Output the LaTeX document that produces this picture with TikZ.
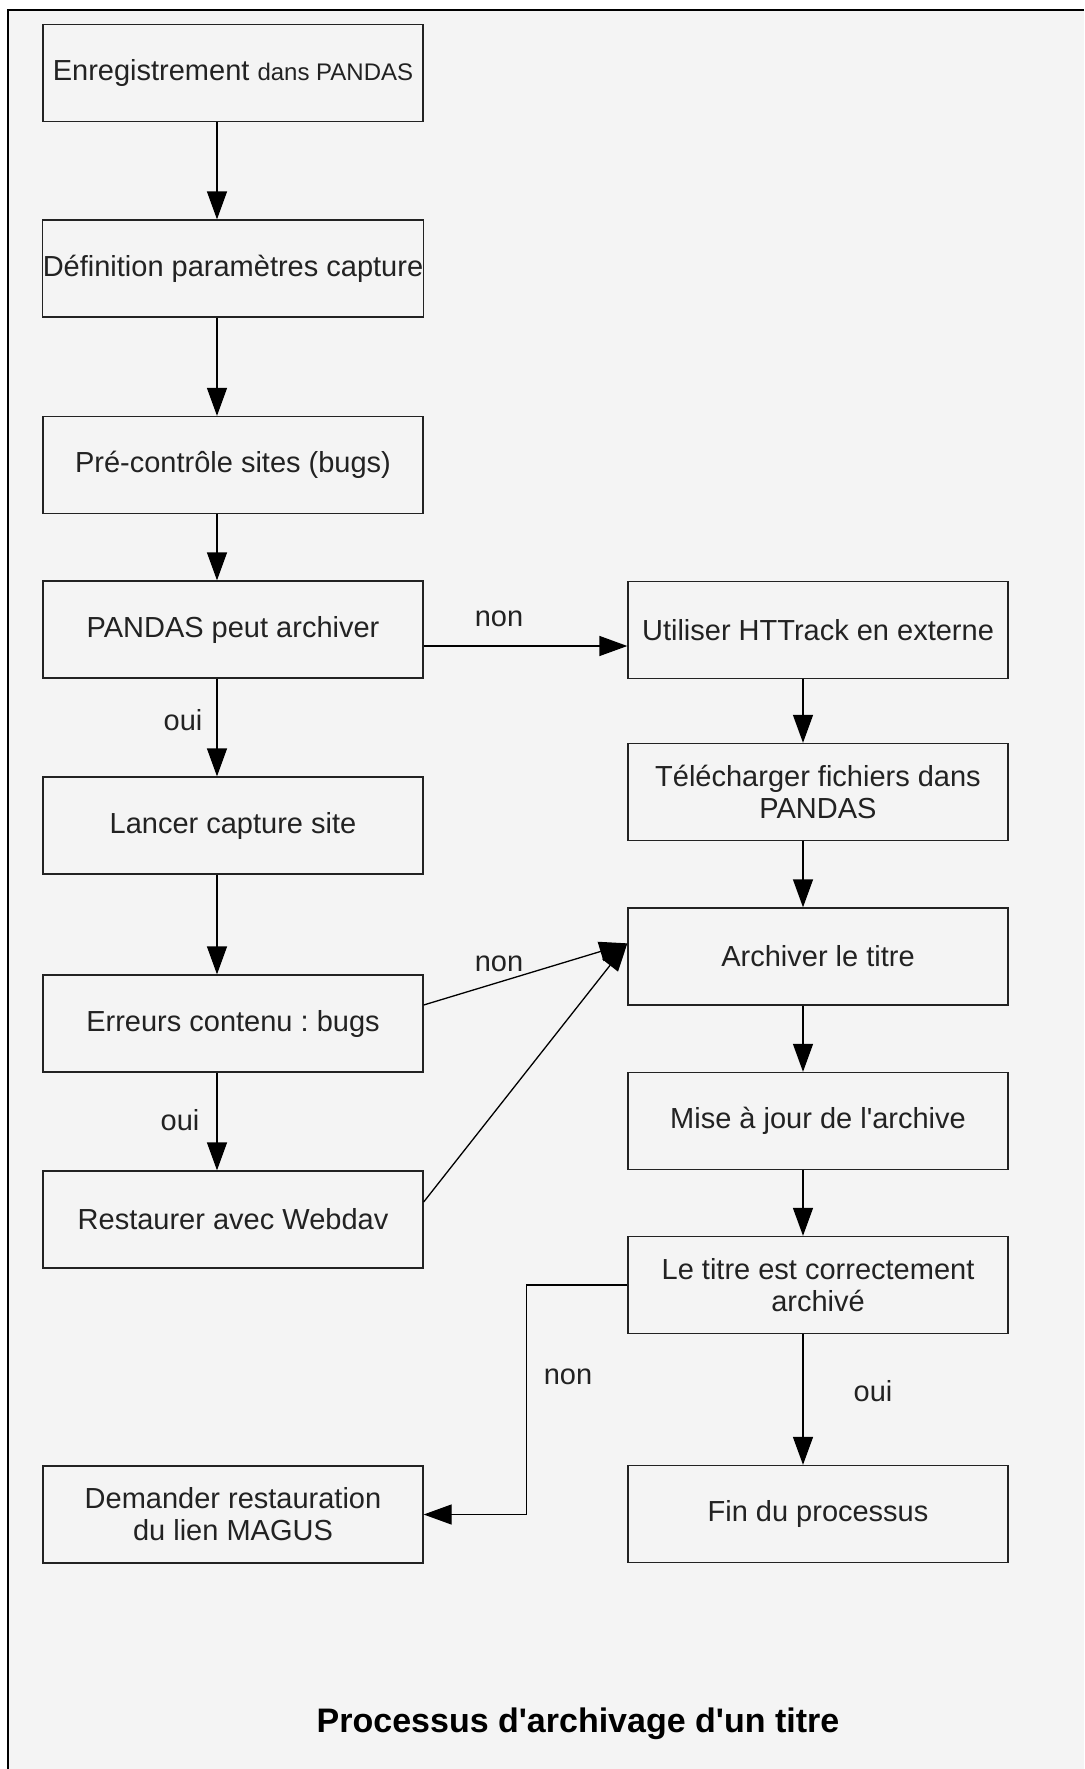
\documentclass[tikz,border=0pt]{standalone}
\usepackage{fontspec}
\setmainfont{Liberation Sans}
\usetikzlibrary{arrows.meta,calc}
\definecolor{bgcol}{HTML}{F4F4F4}
\definecolor{ink}{HTML}{222222}
\tikzset{
  box/.style={draw=ink, line width=1.3pt, minimum width=380pt, minimum height=97pt,
    inner sep=0pt, align=center, text=ink, font=\fontsize{29}{32}\selectfont},
  conn/.style={draw=black, line width=1.3pt, -{Triangle[length=28pt,width=20pt]}},
  lbl/.style={text=ink, font=\fontsize{29}{32}\selectfont, inner sep=0pt},
}
\begin{document}
\frenchspacing
\begin{tikzpicture}[x=1pt,y=-1pt]
\useasboundingbox (0,0) rectangle (1084,1769);
\fill[white] (0,0) rectangle (1084,1769);
\fill[bgcol] (8,10) rectangle (1084,1769);
\draw[black, line width=1.5pt] (8,1769) -- (8,10) -- (1084,10);

% left column
\node[box] (L1) at (233,73) {Enregistrement {\fontsize{24}{28}\selectfont dans PANDAS}};
\node[box] (L2) at (233,268.5) {D\'efinition param\`etres capture};
\node[box] (L3) at (233,465) {Pr\'e-contr\^ole sites (bugs)};
\node[box] (L4) at (233,629.5) {PANDAS peut archiver};
\node[box] (L5) at (233,825.5) {Lancer capture site};
\node[box] (L6) at (233,1023.5) {Erreurs contenu : bugs};
\node[box] (L7) at (233,1219.5) {Restaurer avec Webdav};
\node[box] (L8) at (233,1514.5) {Demander restauration\\du lien MAGUS};

% right column
\node[box] (R1) at (818,630) {Utiliser HTTrack en externe};
\node[box] (R2) at (818,792) {T\'el\'echarger fichiers dans\\PANDAS};
\node[box] (R3) at (818,956.5) {Archiver le titre};
\node[box] (R4) at (818,1121) {Mise \`a jour de l\textquotesingle archive};
\node[box] (R5) at (818,1285) {Le titre est correctement\\archiv\'e};
\node[box] (R6) at (818,1514) {Fin du processus};

\coordinate (lx) at (217,0);
\coordinate (rx) at (803,0);

% left vertical arrows
\draw[conn] (L1.south -| lx) -- (L2.north -| lx);
\draw[conn] (L2.south -| lx) -- (L3.north -| lx);
\draw[conn] (L3.south -| lx) -- (L4.north -| lx);
\draw[conn] (L4.south -| lx) -- (L5.north -| lx);
\draw[conn] (L5.south -| lx) -- (L6.north -| lx);
\draw[conn] (L6.south -| lx) -- (L7.north -| lx);

% right vertical arrows
\draw[conn] (R1.south -| rx) -- (R2.north -| rx);
\draw[conn] (R2.south -| rx) -- (R3.north -| rx);
\draw[conn] (R3.south -| rx) -- (R4.north -| rx);
\draw[conn] (R4.south -| rx) -- (R5.north -| rx);
\draw[conn] (R5.south -| rx) -- (R6.north -| rx);

% horizontal and diagonal
\coordinate (a4) at ($(L4.east)+(0,16.5)$);
\draw[conn] (a4) -- (R1.west |- a4);
\coordinate (tip) at ($(R3.north west)+(0,36)$);
\coordinate (s6) at ($(L6.east)+(0,-18.5)$);
\coordinate (s7) at ($(L7.east)+(0,-17.5)$);
\draw[conn] (s6) -- (tip);
\draw[conn] (s7) -- (tip);
\draw[conn] (R5.west) -- ++(-101,0) |- (L8.east);

% labels
\node[lbl] (n1) at (499,619) {non};
\node[lbl] (n2) at (499,964) {non};
\node[lbl] (n3) at (568,1377) {non};
\node[lbl] (o1) at (183,720) {oui};
\node[lbl] (o2) at (180,1120) {oui};
\node[lbl] (o3) at (873,1391) {oui};

\node[anchor=base, text=black, font=\fontsize{34}{38}\selectfont\bfseries, inner sep=0pt] (title) at (578,1732) {Processus d\textquotesingle archivage d\textquotesingle un titre};
\end{tikzpicture}
\end{document}
